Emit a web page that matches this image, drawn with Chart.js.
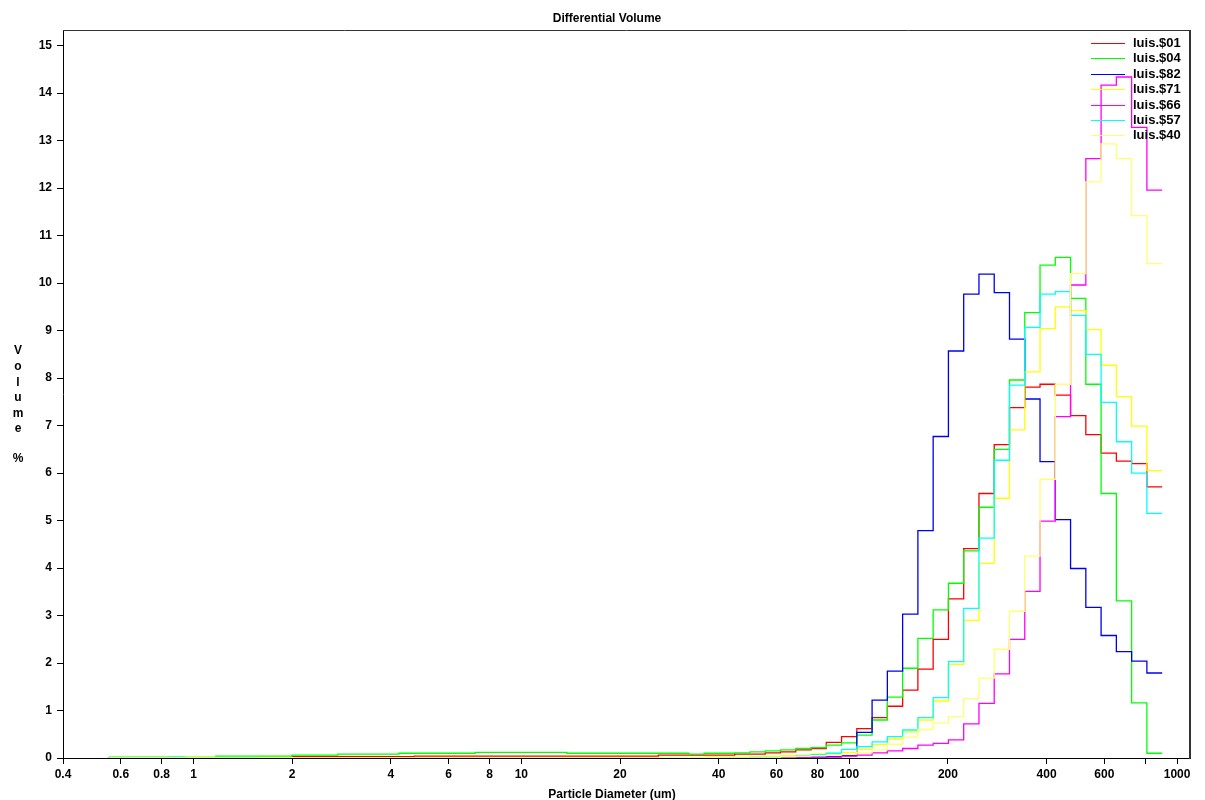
<!DOCTYPE html>
<html>
<head>
<meta charset="utf-8">
<script src="https://cdn.jsdelivr.net/npm/chart.js@4.4.1/dist/chart.umd.min.js"></script>
<style>
  html, body { margin: 0; padding: 0; background: #fff; }
  #wrap { width: 1205px; height: 800px; position: relative; }
</style>
</head>
<body>
<div id="wrap"><canvas id="chart"></canvas></div>
<script>
// left edges of the size channels (um), last entry is the upper edge of the last channel
const binEdges = [
  0.5518, 0.6142, 0.6838, 0.7612, 0.8473, 0.9430, 1.0498, 1.1686, 1.3009, 1.4481,
  1.6120, 1.7945, 1.9976, 2.2237, 2.4754, 2.7555, 3.0674, 3.4146, 3.8010, 4.2312,
  4.7101, 5.2432, 5.8366, 6.4972, 7.2325, 8.0511, 8.9623, 9.9724, 11.101, 12.357,
  13.756, 15.313, 17.046, 18.975, 21.123, 23.513, 26.174, 29.137, 32.434, 36.105,
  40.192, 44.740, 49.804, 55.441, 61.715, 68.700, 76.475, 85.130, 94.765, 105.49,
  117.43, 130.72, 145.52, 161.99, 180.32, 200.73, 223.45, 248.74, 276.89, 308.23,
  343.11, 381.94, 425.17, 473.29, 526.86, 586.48, 652.86, 726.75, 809.00, 900.57
];

const xTicks = [0.4, 0.6, 0.8, 1, 2, 4, 6, 8, 10, 20, 40, 60, 80, 100, 200, 400, 600, 800, 1000];
const yTicks = [0, 1, 2, 3, 4, 5, 6, 7, 8, 9, 10, 11, 12, 13, 14, 15];

const seriesNames = ['luis.$01', 'luis.$04', 'luis.$82', 'luis.$71', 'luis.$66', 'luis.$57', 'luis.$40'];
const seriesColors = ['#ff0000', '#00ff00', '#0000f0', '#ffff00', '#ff00ff', '#00ffff', '#ffff70'];

// volume % per channel
const luis01 = [
  0, 0, 0, 0, 0, 0, 0, 0, 0, 0,
  0, 0, 0.03, 0.03, 0.03, 0.03, 0.03, 0.03, 0.03, 0.03,
  0.04, 0.04, 0.04, 0.04, 0.04, 0.04, 0.04, 0.04, 0.04, 0.04,
  0.04, 0.04, 0.04, 0.04, 0.04, 0.04, 0.06, 0.06, 0.06, 0.06,
  0.06, 0.08, 0.08, 0.11, 0.13, 0.17, 0.20, 0.33, 0.45, 0.62,
  0.85, 1.09, 1.43, 1.87, 2.50, 3.35, 4.41, 5.57, 6.60, 7.38,
  7.81, 7.87, 7.64, 7.21, 6.81, 6.42, 6.25, 6.20, 5.71
];
const luis04 = [
  0.02, 0.02, 0.02, 0.02, 0.02, 0.02, 0.02, 0.04, 0.04, 0.04,
  0.04, 0.04, 0.06, 0.06, 0.06, 0.08, 0.08, 0.08, 0.08, 0.10,
  0.10, 0.10, 0.10, 0.10, 0.12, 0.12, 0.12, 0.12, 0.12, 0.12,
  0.10, 0.10, 0.10, 0.10, 0.10, 0.10, 0.10, 0.10, 0.08, 0.10,
  0.10, 0.11, 0.13, 0.15, 0.17, 0.20, 0.22, 0.27, 0.32, 0.48,
  0.80, 1.28, 1.89, 2.52, 3.12, 3.68, 4.36, 5.28, 6.50, 7.96,
  9.38, 10.38, 10.54, 9.68, 7.87, 5.57, 3.31, 1.16, 0.10
];
const luis82 = [
  0, 0, 0, 0, 0, 0, 0, 0, 0, 0,
  0, 0, 0, 0, 0, 0, 0, 0, 0, 0,
  0, 0, 0, 0, 0, 0, 0, 0, 0, 0,
  0, 0, 0, 0, 0, 0, 0, 0, 0, 0,
  0, 0, 0, 0, 0.01, 0.01, 0.02, 0.03, 0.05, 0.54,
  1.22, 1.83, 3.03, 4.79, 6.77, 8.57, 9.77, 10.19, 9.80, 8.82,
  7.56, 6.24, 5.02, 3.99, 3.17, 2.58, 2.24, 2.04, 1.79
];
const luis71 = [
  0, 0, 0, 0, 0, 0.02, 0.02, 0.01, 0.01, 0.01,
  0.01, 0.01, 0.01, 0.01, 0.01, 0.01, 0.01, 0.01, 0.01, 0.01,
  0.01, 0.01, 0.01, 0.01, 0.01, 0.01, 0.01, 0.01, 0.01, 0.01,
  0.01, 0.01, 0.01, 0.01, 0.01, 0.01, 0.01, 0.01, 0.01, 0.02,
  0.02, 0.02, 0.03, 0.04, 0.05, 0.06, 0.08, 0.10, 0.12, 0.18,
  0.28, 0.40, 0.55, 0.80, 1.20, 1.97, 2.90, 4.10, 5.47, 6.91,
  8.13, 9.04, 9.50, 9.42, 9.02, 8.27, 7.61, 6.99, 6.05
];
const luis66 = [
  0, 0, 0, 0, 0, 0, 0, 0, 0, 0,
  0, 0, 0, 0, 0, 0, 0, 0, 0, 0,
  0, 0, 0, 0, 0, 0, 0, 0, 0, 0,
  0, 0, 0, 0, 0, 0, 0, 0, 0, 0,
  0, 0, 0, 0, 0.01, 0.01, 0.01, 0.02, 0.04, 0.06,
  0.11, 0.15, 0.20, 0.27, 0.31, 0.38, 0.72, 1.15, 1.77, 2.50,
  3.51, 4.99, 7.19, 9.96, 12.62, 14.17, 14.34, 13.28, 11.96
];
const luis57 = [
  0, 0, 0, 0, 0.02, 0.01, 0.01, 0.01, 0.01, 0.01,
  0.01, 0.01, 0.01, 0.01, 0.01, 0.01, 0.01, 0.01, 0.01, 0.01,
  0.01, 0.01, 0.01, 0.01, 0.01, 0.01, 0.01, 0.01, 0.01, 0.01,
  0.01, 0.01, 0.01, 0.01, 0.01, 0.01, 0.01, 0.01, 0.01, 0.01,
  0.01, 0.01, 0.02, 0.02, 0.03, 0.05, 0.07, 0.10, 0.18, 0.24,
  0.34, 0.45, 0.59, 0.85, 1.27, 2.03, 3.15, 4.63, 6.27, 7.85,
  9.07, 9.77, 9.82, 9.32, 8.50, 7.49, 6.66, 6.00, 5.15
];
const luis40 = [
  0, 0, 0, 0, 0, 0, 0, 0, 0, 0,
  0.01, 0.01, 0.01, 0.01, 0.01, 0.01, 0.01, 0.01, 0.01, 0.01,
  0.01, 0.01, 0.01, 0.01, 0.01, 0.01, 0.01, 0.01, 0.01, 0.01,
  0.01, 0.01, 0.01, 0.01, 0.01, 0.01, 0.01, 0.01, 0.01, 0.01,
  0.02, 0.02, 0.02, 0.02, 0.03, 0.04, 0.05, 0.06, 0.08, 0.11,
  0.17, 0.29, 0.44, 0.60, 0.74, 0.87, 1.25, 1.68, 2.29, 3.09,
  4.25, 5.87, 7.87, 10.20, 12.13, 12.93, 12.62, 11.42, 10.41
];
const seriesValues = [luis01, luis04, luis82, luis71, luis66, luis57, luis40];

function stepPoints(values) {
  const pts = values.map((v, i) => ({ x: binEdges[i], y: v }));
  pts.push({ x: binEdges[values.length], y: values[values.length - 1] });
  return pts;
}

const boldFont = { family: '"Liberation Sans", Arial, sans-serif', size: 12, weight: 'bold' };

// title, axis titles, frame and legend drawn around the plot area
const decorations = {
  id: 'decorations',
  afterDatasetsDraw(chart) {
    const { ctx, chartArea: a } = chart;
    ctx.save();
    ctx.strokeStyle = '#333';
    ctx.lineWidth = 1;
    ctx.beginPath();
    ctx.moveTo(a.left, a.top + 0.5);
    ctx.lineTo(a.right, a.top + 0.5);
    ctx.stroke();
    ctx.lineWidth = 2;
    ctx.beginPath();
    ctx.moveTo(a.right, a.top);
    ctx.lineTo(a.right, a.bottom + 1);
    ctx.stroke();

    ctx.font = 'bold 13px "Liberation Sans", Arial, sans-serif';
    ctx.textBaseline = 'middle';
    ctx.textAlign = 'left';
    seriesNames.forEach((name, i) => {
      const y = Math.round(43 + i * 15.4);
      ctx.strokeStyle = seriesColors[i];
      ctx.lineWidth = 1;
      ctx.beginPath();
      ctx.moveTo(a.right - 99, y + 0.5);
      ctx.lineTo(a.right - 65, y + 0.5);
      ctx.stroke();
      ctx.fillStyle = '#000';
      ctx.fillText(name, a.right - 57, y);
    });

    ctx.font = 'bold 12px "Liberation Sans", Arial, sans-serif';
    ctx.textAlign = 'center';
    ctx.fillText('Differential Volume', 607, 19);
    ctx.fillText('Particle Diameter (um)', 612, 795);
    const letters = ['V', 'o', 'l', 'u', 'm', 'e'];
    letters.forEach((ch, i) => ctx.fillText(ch, 18, 351 + i * 15.6));
    ctx.fillText('%', 18, 459);
    ctx.restore();
  }
};

new Chart(document.getElementById('chart'), {
  type: 'line',
  data: {
    datasets: seriesNames.map((name, i) => ({
      label: name,
      data: stepPoints(seriesValues[i]),
      borderColor: seriesColors[i],
      borderWidth: 1.3,
      pointRadius: 0,
      stepped: true,
      fill: false,
      order: seriesNames.length - i
    }))
  },
  options: {
    responsive: true,
    maintainAspectRatio: false,
    animation: false,
    layout: { padding: { top: 30, right: 15, left: 0, bottom: 0 } },
    plugins: {
      legend: { display: false },
      title: { display: false },
      tooltip: { enabled: false }
    },
    scales: {
      x: {
        type: 'logarithmic',
        min: 0.4,
        max: 1095,
        afterBuildTicks: scale => { scale.ticks = xTicks.map(v => ({ value: v })); },
        afterFit: scale => { scale.height = 42; },
        grid: { drawOnChartArea: false, tickLength: 6, color: '#000' },
        border: { color: '#000', width: 1 },
        ticks: {
          autoSkip: false,
          maxRotation: 0,
          minRotation: 0,
          padding: 3,
          color: '#000',
          font: boldFont,
          callback: value => value === 800 ? '' : String(value)
        }
      },
      y: {
        min: 0,
        max: 15.33,
        afterBuildTicks: scale => { scale.ticks = yTicks.map(v => ({ value: v })); },
        afterFit: scale => { scale.width = 63; },
        grid: { drawOnChartArea: false, tickLength: 6, color: '#000' },
        border: { color: '#000', width: 1 },
        ticks: { padding: 5, color: '#000', font: boldFont }
      }
    }
  },
  plugins: [decorations]
});
</script>
</body>
</html>
